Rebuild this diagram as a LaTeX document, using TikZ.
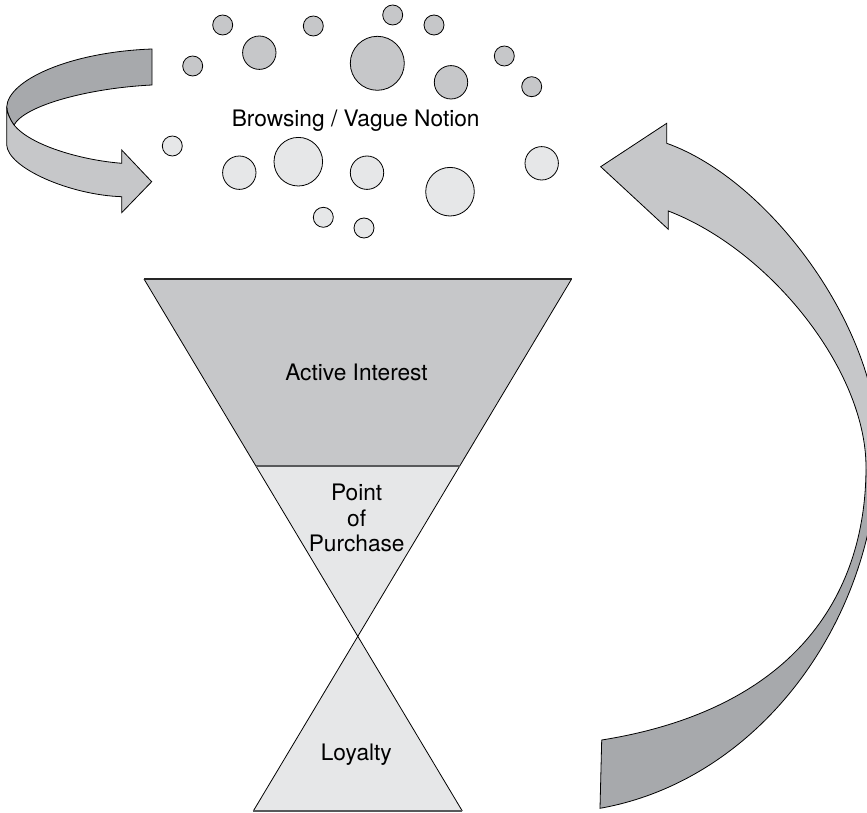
\documentclass[tikz,border=0pt]{standalone}
\usepackage{fontspec}
\setmainfont{TeX Gyre Heros}
\definecolor{midgray}{HTML}{C6C7C9}
\definecolor{paleGray}{HTML}{E6E7E8}
\definecolor{backGray}{HTML}{A7A9AC}
\definecolor{edgeGray}{HTML}{58595B}
\newcommand{\returnband}{%
  (666.7,143.3) -- (666.7,123.3) -- (600.7,166.7) -- (668.3,229.3) -- (668.3,211)
  .. controls (770,250) and (866,370) .. (866,467)
  .. controls (866,600) and (790,710) .. (601.7,740)
  -- (600,808.3)
  .. controls (760,780) and (876,620) .. (878,450)
  .. controls (880,330) and (770,180) .. (666.7,143.3) -- cycle}
\begin{document}
\begin{tikzpicture}[x=1pt,y=-1pt,
  outline/.style={draw=black,line width=0.8pt,line join=miter},
  bubbledark/.style={outline,fill=midgray},
  bubblelight/.style={outline,fill=paleGray},
  label/.style={font=\fontsize{22.7}{26}\selectfont,anchor=base,inner sep=0pt}]
\useasboundingbox (0,0) rectangle (867,813);
\clip (0,0) rectangle (867,813);

% cloud of bubbles above the funnel
\foreach \x/\y/\r in {222.7/25/10, 313.3/26/10, 392.7/15/10, 434/25/10,
  259.3/52.7/16.7, 192.7/66/10, 377.3/63.3/27, 451/82.3/16.7,
  504.3/56/10, 531.7/86.7/10}
  \draw[bubbledark] (\x,\y) circle[radius=\r];
\foreach \x/\y/\r in {172.3/146/10, 239.3/172.7/16.7, 298.3/161.7/24.3,
  367/172.7/16.7, 450/191.7/24.3, 541.7/163.3/16.7, 323.3/217.3/10, 364/228/10}
  \draw[bubblelight] (\x,\y) circle[radius=\r];
\node[label] (browse) at (355.7,127) {Browsing / Vague Notion};

% curled arrow on the left: back face, then front face
\fill[backGray] (152,49) -- (152,85) .. controls (90,88) and (25,105) .. (14,125)
  .. controls (9,118) and (7,112) .. (6.7,107)
  .. controls (8,80) and (70,52) .. (152,49) -- cycle;
\draw[outline] (152,49) -- (152,85) .. controls (90,88) and (25,105) .. (14,125)
  .. controls (9,118) and (7,112) .. (6.7,107)
  .. controls (8,80) and (70,52) .. (152,49) -- cycle;
\draw[outline,fill=midgray] (6.7,107) .. controls (7,112) and (9,118) .. (14,125)
  .. controls (30,145) and (80,160) .. (121.7,163.3)
  -- (121.7,150) -- (151.7,181.7) -- (121.7,212.7) -- (121.7,196.7)
  .. controls (70,195) and (8,168) .. (6.7,145) -- cycle;

% large return arrow on the right
\fill[backGray] \returnband;
\begin{scope}
  \clip (0,0) rectangle (867,468);
  \fill[midgray] \returnband;
\end{scope}
\draw[outline] \returnband;

% funnel corners
\coordinate (TL) at (144,279);
\coordinate (TR) at (571.6,279);
\coordinate (ML) at (255.7,465.7);
\coordinate (MR) at (459.9,465.7);
\coordinate (X)  at (357.8,636.3);
\coordinate (BL) at (253.3,811);
\coordinate (BR) at (462.3,811);

\fill[midgray] (TL) -- (TR) -- (MR) -- (ML) -- cycle;
\fill[paleGray] (ML) -- (MR) -- (X) -- cycle;
\fill[paleGray] (X) -- (BR) -- (BL) -- cycle;
\draw[black,line width=0.8pt] (TL) -- (BR);
\draw[black,line width=0.8pt] (TR) -- (BL);
\draw[black!85,line width=1.4pt] (TL) -- (TR);
\draw[edgeGray,line width=2pt] (ML) -- (MR);
\draw[edgeGray,line width=2pt] (BL) -- (BR);

\node[label] (active) at (356.5,380) {Active Interest};
\node[label] (pp1) at (356.7,500.7) {Point};
\node[label] (pp2) at (356.7,526.2) {of};
\node[label] (pp3) at (356.7,551.7) {Purchase};
\node[label] (loyal) at (356.3,760.7) {Loyalty};
\end{tikzpicture}
\end{document}
